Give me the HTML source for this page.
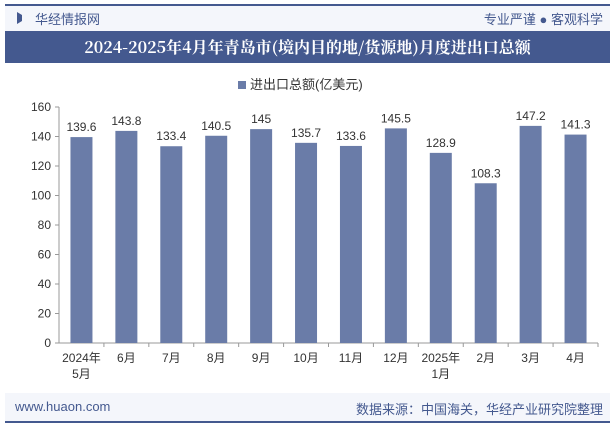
<!DOCTYPE html>
<html><head><meta charset="utf-8"><style>
body{margin:0;width:615px;height:427px;background:#fff;font-family:"Liberation Sans","Noto Sans CJK SC",sans-serif;overflow:hidden;position:relative}
.abs{position:absolute}
</style></head><body>
<div class="abs" style="left:5px;top:4px;width:605px;height:2px;background:#44598f"></div>
<div class="abs" style="left:5px;top:6px;width:605px;height:25px;background:#f4f6fb"></div>
<div class="abs" style="left:17px;top:12px;width:0;height:0;border-left:5px solid #44598f;border-top:3px solid transparent;border-bottom:3px solid transparent;height:6px"></div>
<div class="abs" style="left:35px;top:9px;font-size:13px;color:#44598f">华经情报网</div>
<div class="abs" style="right:12px;top:9px;font-size:13px;color:#44598f">专业严谨 ● 客观科学</div>
<div class="abs" style="left:5px;top:31px;width:605px;height:32px;background:#44598f;color:#fff;font-family:'Noto Serif CJK SC',serif;font-weight:bold;font-size:16px;line-height:32px;text-align:center">2024-2025年4月年青岛市(境内目的地/货源地)月度进出口总额</div>
<div class="abs" style="left:238px;top:74px;font-size:13px;color:#333"><span style="display:inline-block;width:8px;height:8px;background:#6a7ca8;margin-right:4px"></span>进出口总额(亿美元)</div>
<svg class="abs" style="left:0;top:0" width="615" height="427" id="chart"></svg>
<div class="abs" style="left:5px;top:393px;width:605px;height:28px;background:#f4f6fb"></div>
<div class="abs" style="left:5px;top:421px;width:605px;height:2px;background:#44598f"></div>
<div class="abs" style="left:15px;top:399px;font-size:13px;color:#44598f">www.huaon.com</div>
<div class="abs" style="right:12px;top:399px;font-size:13px;color:#44598f">数据来源：中国海关，华经产业研究院整理</div>
<script>
const categories=[["2024年","5月"],["6月"],["7月"],["8月"],["9月"],["10月"],["11月"],["12月"],["2025年","1月"],["2月"],["3月"],["4月"]];
const values=[139.6,143.8,133.4,140.5,145,135.7,133.6,145.5,128.9,108.3,147.2,141.3];
const yTicks=[0,20,40,60,80,100,120,140,160];
const svg=document.getElementById('chart');
const NS='http://www.w3.org/2000/svg';
const x0=59,x1=598,y0=343,y1=107,ymax=160;
const bw=(x1-x0)/categories.length;
const y=v=>y0-(v/ymax)*(y0-y1);
function mk(t,a,txt){const e=document.createElementNS(NS,t);for(const k in a)e.setAttribute(k,a[k]);if(txt!=null)e.textContent=txt;svg.appendChild(e);return e;}
yTicks.forEach(t=>{
 const l=mk('text',{x:x0-8,y:y(t)+4,'text-anchor':'end','font-size':12,fill:'#333'},t);
 
 
 const tk=mk('line',{x1:x0-4,x2:x0,y1:y(t),y2:y(t),stroke:'#999'});
 
 
});
const ax=mk('line',{x1:x0,x2:x0,y1:y1,y2:y0,stroke:'#999'});


const bx=mk('line',{x1:x0,x2:x1,y1:y0,y2:y0,stroke:'#999'});


values.forEach((v,i)=>{
 const cx=x0+bw*(i+0.5);
 const r=mk('rect',{x:cx-11,y:y(v),width:22,height:y0-y(v),fill:'#6a7ca8'});
 
 
 const lb=mk('text',{x:cx,y:y(v)-6,'text-anchor':'middle','font-size':12,fill:'#333'},v);
 
 
 const tk=mk('line',{x1:x0+bw*(i+1),x2:x0+bw*(i+1),y1:y0,y2:y0+4,stroke:'#999'});
 
 
 categories[i].forEach((c,j)=>{
  const t=mk('text',{x:cx,y:y0+19+j*16,'text-anchor':'middle','font-size':12,fill:'#333'},c);
  
  
 });
});
</script>
</body></html>
